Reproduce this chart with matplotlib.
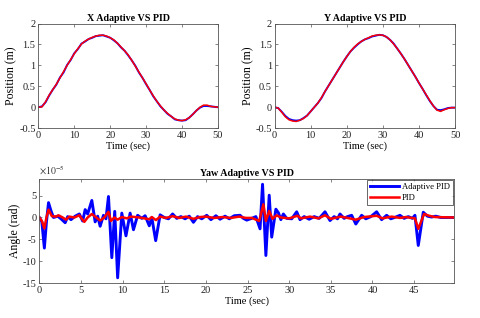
import matplotlib
matplotlib.use("Agg")
import matplotlib.pyplot as plt
import numpy as np

plt.rcParams['font.family'] = ['Liberation Serif', 'DejaVu Serif']
plt.rcParams['mathtext.fontset'] = 'stix'

# ---------------- data ----------------
t_pos = list(range(0, 51))
x_pid = [0.0, 0.01, 0.13, 0.29, 0.42, 0.55, 0.70, 0.85, 1.00, 1.14, 1.28, 1.40, 1.51, 1.58,
         1.63, 1.67, 1.70, 1.72, 1.72, 1.70, 1.66, 1.61, 1.53, 1.44, 1.35, 1.25, 1.12, 0.98,
         0.84, 0.70, 0.56, 0.41, 0.27, 0.14, 0.03, -0.07, -0.15, -0.22, -0.28, -0.31, -0.32,
         -0.30, -0.25, -0.17, -0.08, 0.0, 0.05, 0.05, 0.02, 0.01, 0.0]
x_adp = [0.0, 0.02, 0.12, 0.28, 0.42, 0.54, 0.71, 0.83, 1.01, 1.13, 1.29, 1.39, 1.52, 1.57,
         1.63, 1.66, 1.70, 1.71, 1.72, 1.69, 1.66, 1.60, 1.53, 1.43, 1.35, 1.24, 1.12, 0.99,
         0.83, 0.70, 0.55, 0.41, 0.26, 0.14, 0.02, -0.07, -0.16, -0.22, -0.29, -0.31, -0.32,
         -0.31, -0.25, -0.17, -0.08, -0.01, 0.03, 0.03, 0.02, 0.01, 0.0]
y_pid = [0.0, -0.02, -0.12, -0.23, -0.30, -0.33, -0.34, -0.31, -0.27, -0.20, -0.10, 0.0, 0.10,
         0.23, 0.38, 0.52, 0.66, 0.80, 0.94, 1.08, 1.21, 1.33, 1.43, 1.51, 1.57, 1.62, 1.66,
         1.70, 1.72, 1.73, 1.72, 1.68, 1.61, 1.51, 1.40, 1.28, 1.15, 1.01, 0.87, 0.73, 0.58,
         0.44, 0.30, 0.16, 0.03, -0.07, -0.10, -0.06, -0.03, -0.01, -0.01]
y_adp = [0.0, -0.02, -0.11, -0.21, -0.28, -0.31, -0.32, -0.31, -0.26, -0.20, -0.10, 0.0, 0.10,
         0.22, 0.38, 0.52, 0.66, 0.80, 0.94, 1.08, 1.21, 1.33, 1.42, 1.50, 1.57, 1.62, 1.65,
         1.69, 1.71, 1.73, 1.72, 1.68, 1.61, 1.52, 1.40, 1.28, 1.15, 1.01, 0.87, 0.73, 0.58,
         0.44, 0.29, 0.15, 0.03, -0.06, -0.07, -0.05, -0.02, -0.01, -0.01]

# yaw angle, in units of 1e-5 rad
t_yaw_adp = [0, 0.3, 0.6, 0.85, 1.1, 1.4, 1.7, 2.2, 2.6, 3.1, 3.4, 3.8, 4.3, 4.8, 5.2, 5.5, 5.8,
             6.3, 6.7, 7.0, 7.3, 7.7, 8.0, 8.3, 8.7, 9.05, 9.4, 9.9, 10.4, 10.9, 11.3, 11.8,
             12.3, 12.7, 13.2, 13.5, 13.97, 14.5, 15.0, 15.5, 16.0, 16.5, 17.0, 17.5, 18.0,
             18.5, 19.0, 19.5, 20.1, 20.6, 21.2, 21.7, 22.3, 22.8, 23.4, 24.1, 24.5, 24.9,
             25.5, 26.0, 26.5, 26.8, 27.2, 27.6, 27.9, 28.4, 28.7, 29.0, 29.3, 29.7, 30.3,
             30.9, 31.3, 31.8, 32.4, 33.0, 33.6, 34.3, 34.9, 35.4, 35.8, 36.1, 36.6, 37.0,
             37.5, 38.0, 38.7, 39.2, 39.8, 40.5, 41.1, 41.7, 42.2, 42.8, 43.3, 43.8, 44.3,
             44.8, 45.1, 45.5, 46.1, 46.6, 47.1, 47.6, 48.2, 49.8]
yaw_adp = [0, -1.0, -7.0, -1.0, 3.4, 1.5, 0, 0.3, -0.3, -1.2, 0.2, -0.5, 0.3, 0.8, -0.8, 1.8,
           0.8, 3.9, -1.0, 0.3, -2.0, 0.5, -0.3, 4.8, -9.2, 1.4, -13.8, 1.0, -4.2, 1.0, -2.8,
           0.5, -0.2, 0.4, -1.9, 0.0, -5.3, 0.6, 0, -0.3, 0.8, -0.2, 0.2, -0.3, 0.3, -1.1,
           0.2, -0.3, 0.5, -0.5, 0.4, -0.4, 0.3, -0.3, 0.4, 0.5, -0.2, -0.6, -0.2, 0.2, -2.6,
           7.6, -8.7, 5.1, -4.5, 1.9, 1.1, -0.5, 0.8, -0.2, -0.3, 1.3, -0.5, 0.2, -0.4, 0.2,
           -0.2, 1.3, -0.7, 0.2, -0.3, 0.8, -0.2, 0.2, 0.5, -1.5, 0.5, -0.3, 0.2, 1.3, -0.5,
           0.5, -0.3, 0.1, 0.5, -0.2, 0.2, -0.2, 0.5, -6.4, 1.2, 0.3, 0.1, 0.3, 0, 0]
t_yaw_pid = [0, 0.3, 0.6, 0.85, 1.1, 1.5, 2.0, 2.3, 2.8, 3.2, 3.6, 4.2, 4.8, 5.1, 5.4, 5.8,
             6.3, 6.7, 7.3, 7.8, 8.3, 8.6, 9.0, 9.4, 9.9, 10.5, 11.0, 12.0, 13.2, 13.5, 14.0,
             14.5, 15.2, 16.0, 16.8, 17.6, 18.5, 19.3, 20.0, 21.0, 22.0, 23.0, 24.0, 24.8,
             25.5, 26.4, 26.9, 27.2, 27.6, 28.0, 28.5, 29.0, 30.0, 31.0, 31.4, 32.5, 33.5,
             34.3, 35.0, 36.2, 37.0, 38.0, 39.0, 40.5, 41.2, 42.3, 43.3, 44.0, 45.1, 45.5,
             46.2, 46.8, 47.5, 49.8]
yaw_pid = [0, -0.8, -2.5, 0, 1.8, 0.3, 0.2, 0.5, 0, -0.5, 0.2, 0, 0.5, -0.3, -1.0, 0, 0.8,
           0.2, -0.7, 0, 1.3, -0.8, 0, -0.5, 0.1, -0.2, 0.2, 0, -0.4, 0.1, -0.6, 0.2, -0.1,
           0.3, -0.1, 0.2, -0.3, 0.1, 0.2, -0.1, 0.1, -0.1, 0.2, -0.1, -0.1, -0.8, 3.0, -0.8,
           1.5, -0.3, 0.5, 0, -0.2, 0.4, -0.2, 0.2, -0.2, 0.5, -0.3, 0.2, -0.1, -0.5, 0.1, 0.4,
           -0.2, 0.2, -0.1, 0.1, -0.2, -2.6, 0.8, 0.4, 0.1, 0]

pos_xticks = [0, 10, 20, 30, 40, 50]
pos_yticks = [-0.5, 0, 0.5, 1, 1.5, 2]
pos_yticklabels = ['-0.5', '0', '0.5', '1', '1.5', '2']
yaw_xticks = [0, 5, 10, 15, 20, 25, 30, 35, 40, 45]
yaw_yticks = [-15, -10, -5, 0, 5]
yaw_yticklabels = ['-15', '-10', '-5', '0', '5']

# ---------------- figure ----------------
fig = plt.figure(figsize=(4.8, 3.18), dpi=100)
ax1 = fig.add_axes([0.080, 0.597, 0.374, 0.329])
ax2 = fig.add_axes([0.572, 0.597, 0.376, 0.329])
ax3 = fig.add_axes([0.082, 0.110, 0.864, 0.327])

spine_col = '#555555'
tick_fs = 7.5
xlab_fs = 7.5
ylab_fs = 8.5
title_fs = 7.2

def style(ax):
    for s in ax.spines.values():
        s.set_color(spine_col)
        s.set_linewidth(0.6)
    ax.tick_params(direction='in', length=2.5, width=0.5, colors=spine_col,
                   labelcolor='#222222', labelsize=tick_fs, top=True, right=True, pad=2)

for ax, title, a, p in [(ax1, 'X Adaptive VS PID', x_adp, x_pid),
                        (ax2, 'Y Adaptive VS PID', y_adp, y_pid)]:
    ax.plot(t_pos, a, color='#0000ff', lw=1.4)
    ax.plot(t_pos, p, color='#ff0000', lw=1.1)
    ax.set_xlim(0, 50)
    ax.set_ylim(-0.5, 2)
    ax.set_xticks(pos_xticks)
    ax.set_yticks(pos_yticks)
    ax.set_yticklabels(pos_yticklabels)
    ax.set_title(title, fontsize=title_fs, fontweight='bold', pad=2)
    ax.set_xlabel('Time (sec)', fontsize=xlab_fs, labelpad=1)
    ax.set_ylabel('Position (m)', fontsize=ylab_fs, labelpad=1)
    style(ax)

ax3.plot(t_yaw_adp, yaw_adp, color='#0000ff', lw=2.1, label='Adaptive PID')
ax3.plot(t_yaw_pid, yaw_pid, color='#ff0000', lw=1.8, label='PID')
ax3.set_xlim(0, 49.8)
ax3.set_ylim(-15, 8.8)
ax3.set_xticks(yaw_xticks)
ax3.set_yticks(yaw_yticks)
ax3.set_yticklabels(yaw_yticklabels)
ax3.set_title('Yaw Adaptive VS PID', fontsize=title_fs, fontweight='bold', pad=2)
ax3.set_xlabel('Time (sec)', fontsize=xlab_fs, labelpad=1)
ax3.set_ylabel('Angle (rad)', fontsize=ylab_fs, labelpad=1)
style(ax3)
ax3.text(0.0, 1.015, r'$\times10^{-5}$', transform=ax3.transAxes, fontsize=7,
         color='#333333', ha='left', va='bottom')
leg = ax3.legend(loc='upper right', fontsize=6.2, handlelength=3.4, frameon=True,
                 fancybox=False, borderpad=0.35, labelspacing=0.25, handletextpad=0.3,
                 borderaxespad=0.15)
leg.get_frame().set_edgecolor('#222222')
leg.get_frame().set_linewidth(0.6)

fig.savefig('out.png', dpi=100)
